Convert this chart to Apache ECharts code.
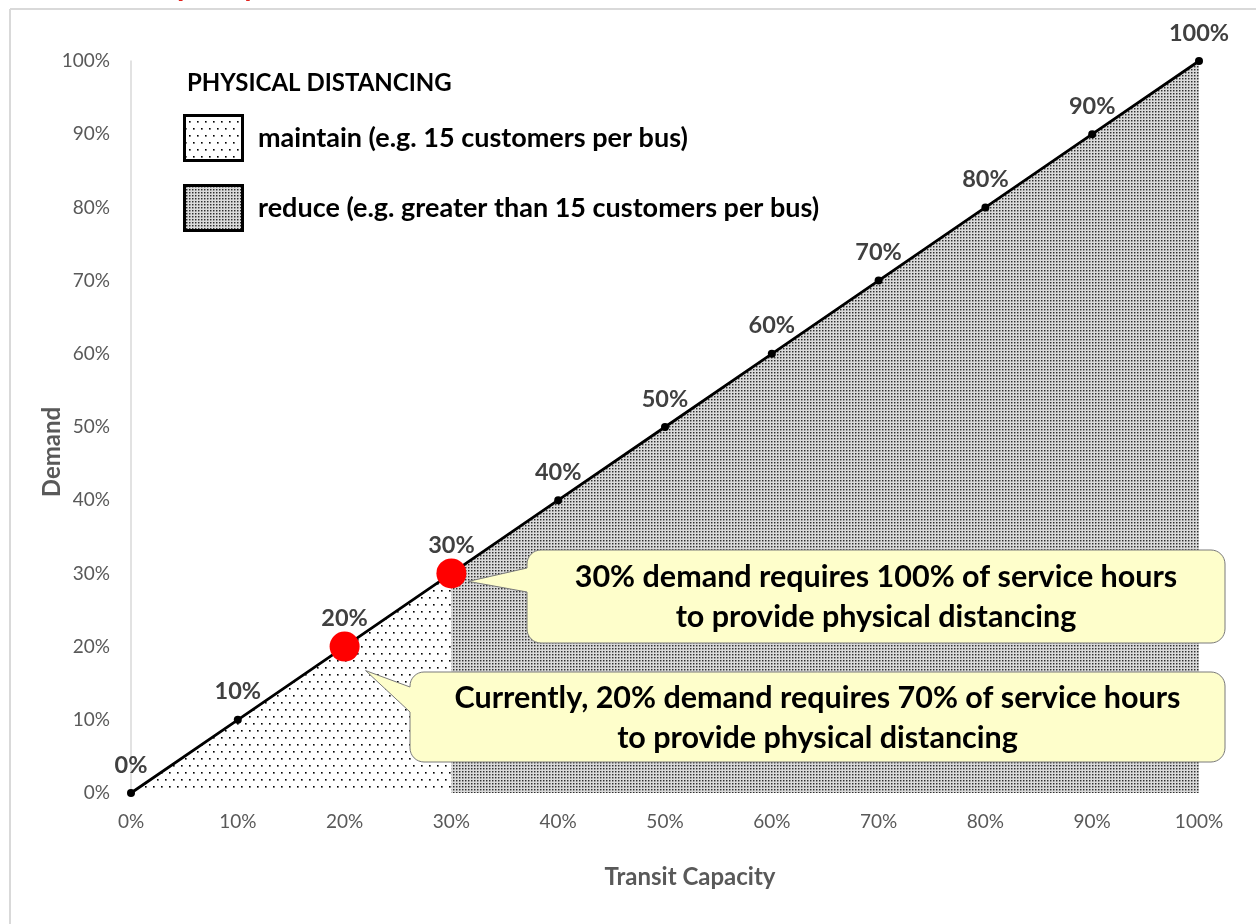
<!DOCTYPE html>
<html>
<head>
<meta charset="utf-8">
<script src="https://cdn.jsdelivr.net/npm/echarts@6/dist/echarts.min.js"></script>
<style>
  html, body { margin: 0; padding: 0; background: #fff; }
  #chart { width: 1256px; height: 924px; }
</style>
</head>
<body>
<div id="chart"></div>
<script>
// Transit capacity (x) against demand (y), both in percent
const capacity = [0, 10, 20, 30, 40, 50, 60, 70, 80, 90, 100];
const demand   = [0, 10, 20, 30, 40, 50, 60, 70, 80, 90, 100];

// capacity values highlighted with a red marker
const highlighted = [20, 30];

// below this capacity physical distancing is maintained
const splitAt = 30;

const axisMin = 0;
const axisMax = 100;
const axisStep = 10;

const xAxisTitle = 'Transit Capacity';
const yAxisTitle = 'Demand';
const slideTitle = 'Capacity';

const legendTitle = 'PHYSICAL DISTANCING';
const legendLabels = [
  'maintain (e.g. 15 customers per bus)',
  'reduce (e.g. greater than 15 customers per bus)'
];

const calloutTargets = [30, 20];
const calloutLines = [
  ['30% demand requires 100% of service hours', 'to provide physical distancing'],
  ['Currently, 20% demand requires 70% of service hours', 'to provide physical distancing']
];

const FONT = 'Lato, "Open Sans", sans-serif';

// ---- fill patterns ----
function makeTile(w, h, bg, pixels) {
  const c = document.createElement('canvas');
  c.width = w; c.height = h;
  const g = c.getContext('2d');
  if (bg) { g.fillStyle = bg; g.fillRect(0, 0, w, h); }
  pixels.forEach(([x, y, s, col]) => { g.fillStyle = col; g.fillRect(x, y, s, s); });
  return c;
}
// sparse staggered dots
const sparseTile = makeTile(8, 14, '#ffffff', [
  [1, 2, 1, '#000000'], [2, 2, 1, '#666666'], [1, 3, 1, '#666666'], [2, 3, 1, '#999999'],
  [5, 9, 1, '#000000'], [6, 9, 1, '#666666'], [5, 10, 1, '#666666'], [6, 10, 1, '#999999']
]);
// dense fine stipple
const denseTile = makeTile(3, 3, '#dadada', [
  [0, 0, 1, '#2e2e2e'], [1, 0, 1, '#8a8a8a'], [0, 1, 1, '#8a8a8a'], [1, 1, 1, '#b8b8b8']
]);
const sparsePattern = { image: sparseTile, repeat: 'repeat' };
const densePattern = { image: denseTile, repeat: 'repeat' };

const points = capacity.map((c, i) => [c, demand[i]]);
const lowPart = points.filter(p => p[0] <= splitAt);
const highPart = points.filter(p => p[0] >= splitAt);
const redPoints = highlighted.map(c => [c, demand[capacity.indexOf(c)]]);

const chart = echarts.init(document.getElementById('chart'), null, { renderer: 'canvas' });

const axisLabelStyle = { color: '#595959', fontSize: 19, fontFamily: FONT, formatter: '{value}%' };

chart.setOption({
  animation: false,
  backgroundColor: '#ffffff',
  grid: { left: 131, right: 57, top: 61, bottom: 131, containLabel: false },
  xAxis: {
    type: 'value', min: axisMin, max: axisMax, interval: axisStep,
    name: xAxisTitle, nameLocation: 'middle', nameGap: 72, nameMoveOverlap: false,
    nameTextStyle: { color: '#595959', fontSize: 24, fontWeight: 'bold', fontFamily: FONT, padding: [0, 0, 0, 50] },
    axisLine: { show: false }, axisTick: { show: false }, splitLine: { show: false },
    axisLabel: Object.assign({ margin: 19 }, axisLabelStyle)
  },
  yAxis: {
    type: 'value', min: axisMin, max: axisMax, interval: axisStep,
    name: yAxisTitle, nameLocation: 'middle', nameGap: 67, nameMoveOverlap: false,
    nameTextStyle: { color: '#595959', fontSize: 24, fontWeight: 'bold', fontFamily: FONT, padding: [0, 50, 0, 0] },
    axisLine: { show: true, lineStyle: { color: '#d9d9d9', width: 1.5 } },
    axisTick: { show: false }, splitLine: { show: false },
    axisLabel: Object.assign({ margin: 21 }, axisLabelStyle)
  },
  series: [
    {
      name: 'maintain', type: 'line', data: lowPart, symbol: 'none', silent: true, z: 1,
      lineStyle: { width: 0 }, areaStyle: { color: sparsePattern, opacity: 1 }
    },
    {
      name: 'reduce', type: 'line', data: highPart, symbol: 'none', silent: true, z: 1,
      lineStyle: { width: 0 }, areaStyle: { color: densePattern, opacity: 1 }
    },
    {
      name: 'demand', type: 'line', data: points, z: 3,
      symbol: 'circle', symbolSize: 8,
      itemStyle: { color: '#000000' },
      lineStyle: { color: '#000000', width: 2.8 },
      label: {
        show: true, position: 'top', distance: 12,
        color: '#404040', fontSize: 23.5, fontWeight: 'bold', fontFamily: FONT,
        formatter: p => p.value[1] + '%'
      }
    },
    {
      name: 'highlight', type: 'scatter', data: redPoints, z: 5,
      symbol: 'circle', symbolSize: 30, itemStyle: { color: '#ff0000', opacity: 1 }
    }
  ]
});

// ---- annotations ----
// outline of a rounded box with a pointer leaving its left side
function calloutPoints(b, tip, baseTop, baseBottom, r) {
  const x0 = b.x, y0 = b.y, x1 = b.x + b.w, y1 = b.y + b.h;
  const pts = [];
  const arc = (cx, cy, a0, a1) => {
    for (let k = 0; k <= 8; k++) {
      const a = (a0 + (a1 - a0) * k / 8) * Math.PI / 180;
      pts.push([cx + r * Math.cos(a), cy + r * Math.sin(a)]);
    }
  };
  arc(x1 - r, y0 + r, -90, 0);
  arc(x1 - r, y1 - r, 0, 90);
  arc(x0 + r, y1 - r, 90, 180);
  pts.push([x0, baseBottom], tip, [x0, baseTop]);
  arc(x0 + r, y0 + r, 180, 270);
  return pts;
}

const calloutBoxes = [
  { x: 527, y: 550, w: 698, h: 93, base: [568, 592], tipOffset: [17, 8] },
  { x: 410, y: 672, w: 815, h: 90, base: [687, 712], tipOffset: [21, 24] }
];

const graphics = [];

// slide frame and title
graphics.push({
  type: 'text', z: 1, style: {
    text: slideTitle, x: 142, y: -13.5, fill: '#e3211c',
    font: 'bold 30px ' + FONT, textAlign: 'left', textVerticalAlign: 'middle'
  }
});
graphics.push({ type: 'line', z: 1, shape: { x1: 10, y1: 9, x2: 1256, y2: 9 }, style: { stroke: '#d9d9d9', lineWidth: 2 } });
graphics.push({ type: 'line', z: 1, shape: { x1: 10, y1: 9, x2: 10, y2: 924 }, style: { stroke: '#d9d9d9', lineWidth: 2 } });

// legend
graphics.push({
  type: 'text', z: 10, style: {
    text: legendTitle, x: 187, y: 83, fill: '#000',
    font: 'bold 24px ' + FONT, textAlign: 'left', textVerticalAlign: 'middle'
  }
});
[sparsePattern, densePattern].forEach((pat, i) => {
  const top = 114 + i * 70;
  graphics.push({
    type: 'rect', z: 10, shape: { x: 184.5, y: top + 1.5, width: 58, height: 45 },
    style: { fill: pat, stroke: '#000', lineWidth: 3 }
  });
  graphics.push({
    type: 'text', z: 10, style: {
      text: legendLabels[i], x: 258, y: top + 24, fill: '#000',
      font: 'bold 27px ' + FONT, textAlign: 'left', textVerticalAlign: 'middle'
    }
  });
});

// callouts pointing at the highlighted points
calloutTargets.forEach((c, i) => {
  const b = calloutBoxes[i];
  const px = chart.convertToPixel({ gridIndex: 0 }, [c, demand[capacity.indexOf(c)]]);
  const tip = [px[0] + b.tipOffset[0], px[1] + b.tipOffset[1]];
  graphics.push({
    type: 'polygon', z: 20,
    shape: { points: calloutPoints(b, tip, b.base[0], b.base[1], 14) },
    style: { fill: '#fefecb', stroke: '#7a7a7a', lineWidth: 1 }
  });
  graphics.push({
    type: 'text', z: 21, style: {
      text: calloutLines[i].join('\n'), x: b.x + b.w / 2, y: b.y + b.h / 2 + 1,
      fill: '#000', font: 'bold 30.5px ' + FONT, lineHeight: 40,
      textAlign: 'center', textVerticalAlign: 'middle'
    }
  });
});

chart.setOption({ graphic: { elements: graphics } });
</script>
</body>
</html>
